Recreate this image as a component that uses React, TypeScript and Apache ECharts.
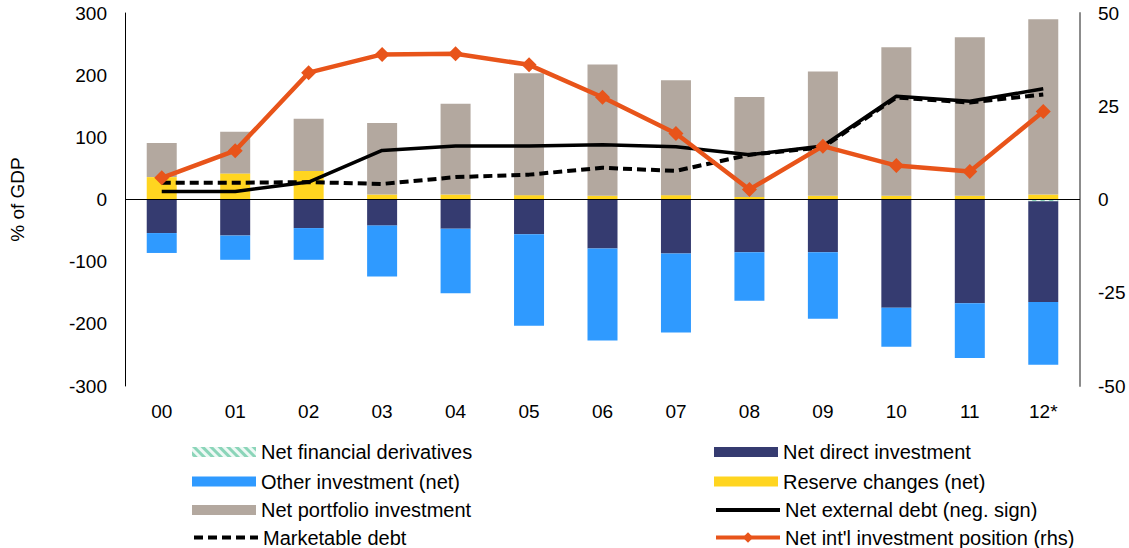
import React, { useEffect, useRef } from "react";
import * as echarts from "echarts";

const years = ["00", "01", "02", "03", "04", "05", "06", "07", "08", "09", "10", "11", "12*"];

const netFinancialDerivatives = [0, 0, 0, 0, 0, 0, 0, 0, 0, 0, -1, -1, -3];
const netDirectInvestment = [-54, -58, -46, -42, -47, -56, -79, -87, -85, -85, -173, -166, -162];
const otherInvestment = [-32, -39, -51, -82, -104, -147, -148, -127, -78, -107, -63, -88, -101];
const reserveChanges = [36, 42, 46, 8, 8, 7, 6, 7, 4, 6, 6, 6, 8];
const netPortfolioInvestment = [55, 67, 84, 115, 146, 196, 211, 185, 161, 200, 239, 255, 282];
const netExternalDebt = [13, 13, 28, 79, 86, 86, 88, 85, 72, 86, 166, 158, 178];
const marketableDebt = [27, 27, 28, 25, 36, 40, 51, 46, 72, 84, 164, 156, 169];
const netIIP = [5.8, 13.1, 34, 38.9, 39.1, 36.1, 27.4, 17.7, 2.7, 14.3, 9.1, 7.5, 23.6];

const leftTicks = { min: -300, max: 300, interval: 100 };
const rightTicks = { min: -50, max: 50, interval: 25 };

const legendLeftColumn = ["Net financial derivatives", "Other investment (net)", "Net portfolio investment", "Marketable debt"];
const legendRightColumn = ["Net direct investment", "Reserve changes (net)", "Net external debt (neg. sign)", "Net int'l investment position (rhs)"];
const noSymbolLegend = ["Marketable debt", "Net external debt (neg. sign)"];
const barLegend = ["Net financial derivatives", "Other investment (net)", "Net portfolio investment", "Net direct investment", "Reserve changes (net)"];

const FONT = "'Liberation Sans', Arial, sans-serif";

export default function App() {
  const ref = useRef<HTMLDivElement>(null);

  useEffect(() => {
    if (!ref.current) return;
    const chart = echarts.init(ref.current, undefined, { renderer: "svg" });
    const barBase = { type: "bar", stack: "a", barWidth: 30, yAxisIndex: 0 };
    const legendText = { fontSize: 20, color: "#000", fontFamily: FONT, lineHeight: 20 };
    const rowTops = [442, 471.5, 500, 527.5];
    const mkLegend = (name: string, left: number, top: number) => {
      let item: any = name;
      if (noSymbolLegend.includes(name)) item = { name, itemStyle: { opacity: 0 }, lineStyle: { width: 4 } };
      else if (name.startsWith("Net int'l")) item = { name, lineStyle: { width: 4 } };
      else if (barLegend.includes(name)) item = { name, icon: "rect" };
      return {
        left,
        top,
        itemWidth: 64,
        itemHeight: name.startsWith("Net int'l") ? 13 : 10,
        padding: 0,
        textStyle: legendText,
        data: [item],
      };
    };
    const legends = [
      ...legendLeftColumn.map((n, i) => mkLegend(n, 192, rowTops[i])),
      ...legendRightColumn.map((n, i) => mkLegend(n, 714, rowTops[i])),
    ];
    chart.setOption({
      animation: false,
      textStyle: { fontFamily: FONT },
      grid: { left: 120, right: 49, top: 13, bottom: 162, containLabel: false },
      legend: legends,
      xAxis: {
        type: "category",
        data: years,
        axisLine: { show: false },
        axisTick: { show: false },
        axisLabel: { fontSize: 19, color: "#000", margin: 16, fontFamily: FONT },
        splitLine: { show: false },
      },
      yAxis: [
        {
          type: "value",
          ...leftTicks,
          name: "% of GDP",
          nameLocation: "middle",
          nameGap: 98,
          nameRotate: 90,
          nameTextStyle: { fontSize: 19, color: "#000", fontFamily: FONT },
          axisLine: { show: true, lineStyle: { color: "#000", width: 1 } },
          axisTick: { show: false },
          splitLine: { show: false },
          axisLabel: { fontSize: 19, color: "#000", margin: 18, fontFamily: FONT },
        },
        {
          type: "value",
          ...rightTicks,
          position: "right",
          axisLine: { show: true, lineStyle: { color: "#8c8c8c", width: 2 } },
          axisTick: { show: false },
          splitLine: { show: false },
          axisLabel: { fontSize: 19, color: "#000", margin: 18, fontFamily: FONT },
        },
      ],
      series: [
        {
          ...barBase,
          name: "Net financial derivatives",
          data: netFinancialDerivatives,
          itemStyle: {
            color: "#8BD5B9",
            decal: {
              symbol: "rect",
              color: "rgba(255,255,255,0.85)",
              dashArrayX: [1, 0],
              dashArrayY: [3, 3],
              rotation: Math.PI / 4,
            },
          },
        },
        {
          ...barBase,
          name: "Net direct investment",
          data: netDirectInvestment,
          itemStyle: { color: "#353B70" },
          markLine: {
            silent: true,
            symbol: "none",
            label: { show: false },
            lineStyle: { color: "#000", width: 1, type: "solid" },
            data: [{ yAxis: 0 }],
          },
        },
        { ...barBase, name: "Other investment (net)", data: otherInvestment, itemStyle: { color: "#2F9AFF" } },
        { ...barBase, name: "Reserve changes (net)", data: reserveChanges, itemStyle: { color: "#FFD520" } },
        { ...barBase, name: "Net portfolio investment", data: netPortfolioInvestment, itemStyle: { color: "#B3A89F" } },
        {
          type: "line",
          name: "Net external debt (neg. sign)",
          data: netExternalDebt,
          yAxisIndex: 0,
          symbol: "none",
          lineStyle: { color: "#000", width: 3.5 },
          itemStyle: { color: "#000" },
        },
        {
          type: "line",
          name: "Marketable debt",
          data: marketableDebt,
          yAxisIndex: 0,
          symbol: "none",
          lineStyle: { color: "#000", width: 4, type: [9, 5] },
          itemStyle: { color: "#000" },
        },
        {
          type: "line",
          name: "Net int'l investment position (rhs)",
          data: netIIP,
          yAxisIndex: 1,
          symbol: "diamond",
          symbolSize: 15,
          lineStyle: { color: "#E8541A", width: 4.5 },
          itemStyle: { color: "#E8541A" },
        },
      ],
    });
    return () => chart.dispose();
  }, []);

  return <div ref={ref} style={{ width: 1129, height: 548, position: "absolute", left: 0, top: 0 }} />;
}
